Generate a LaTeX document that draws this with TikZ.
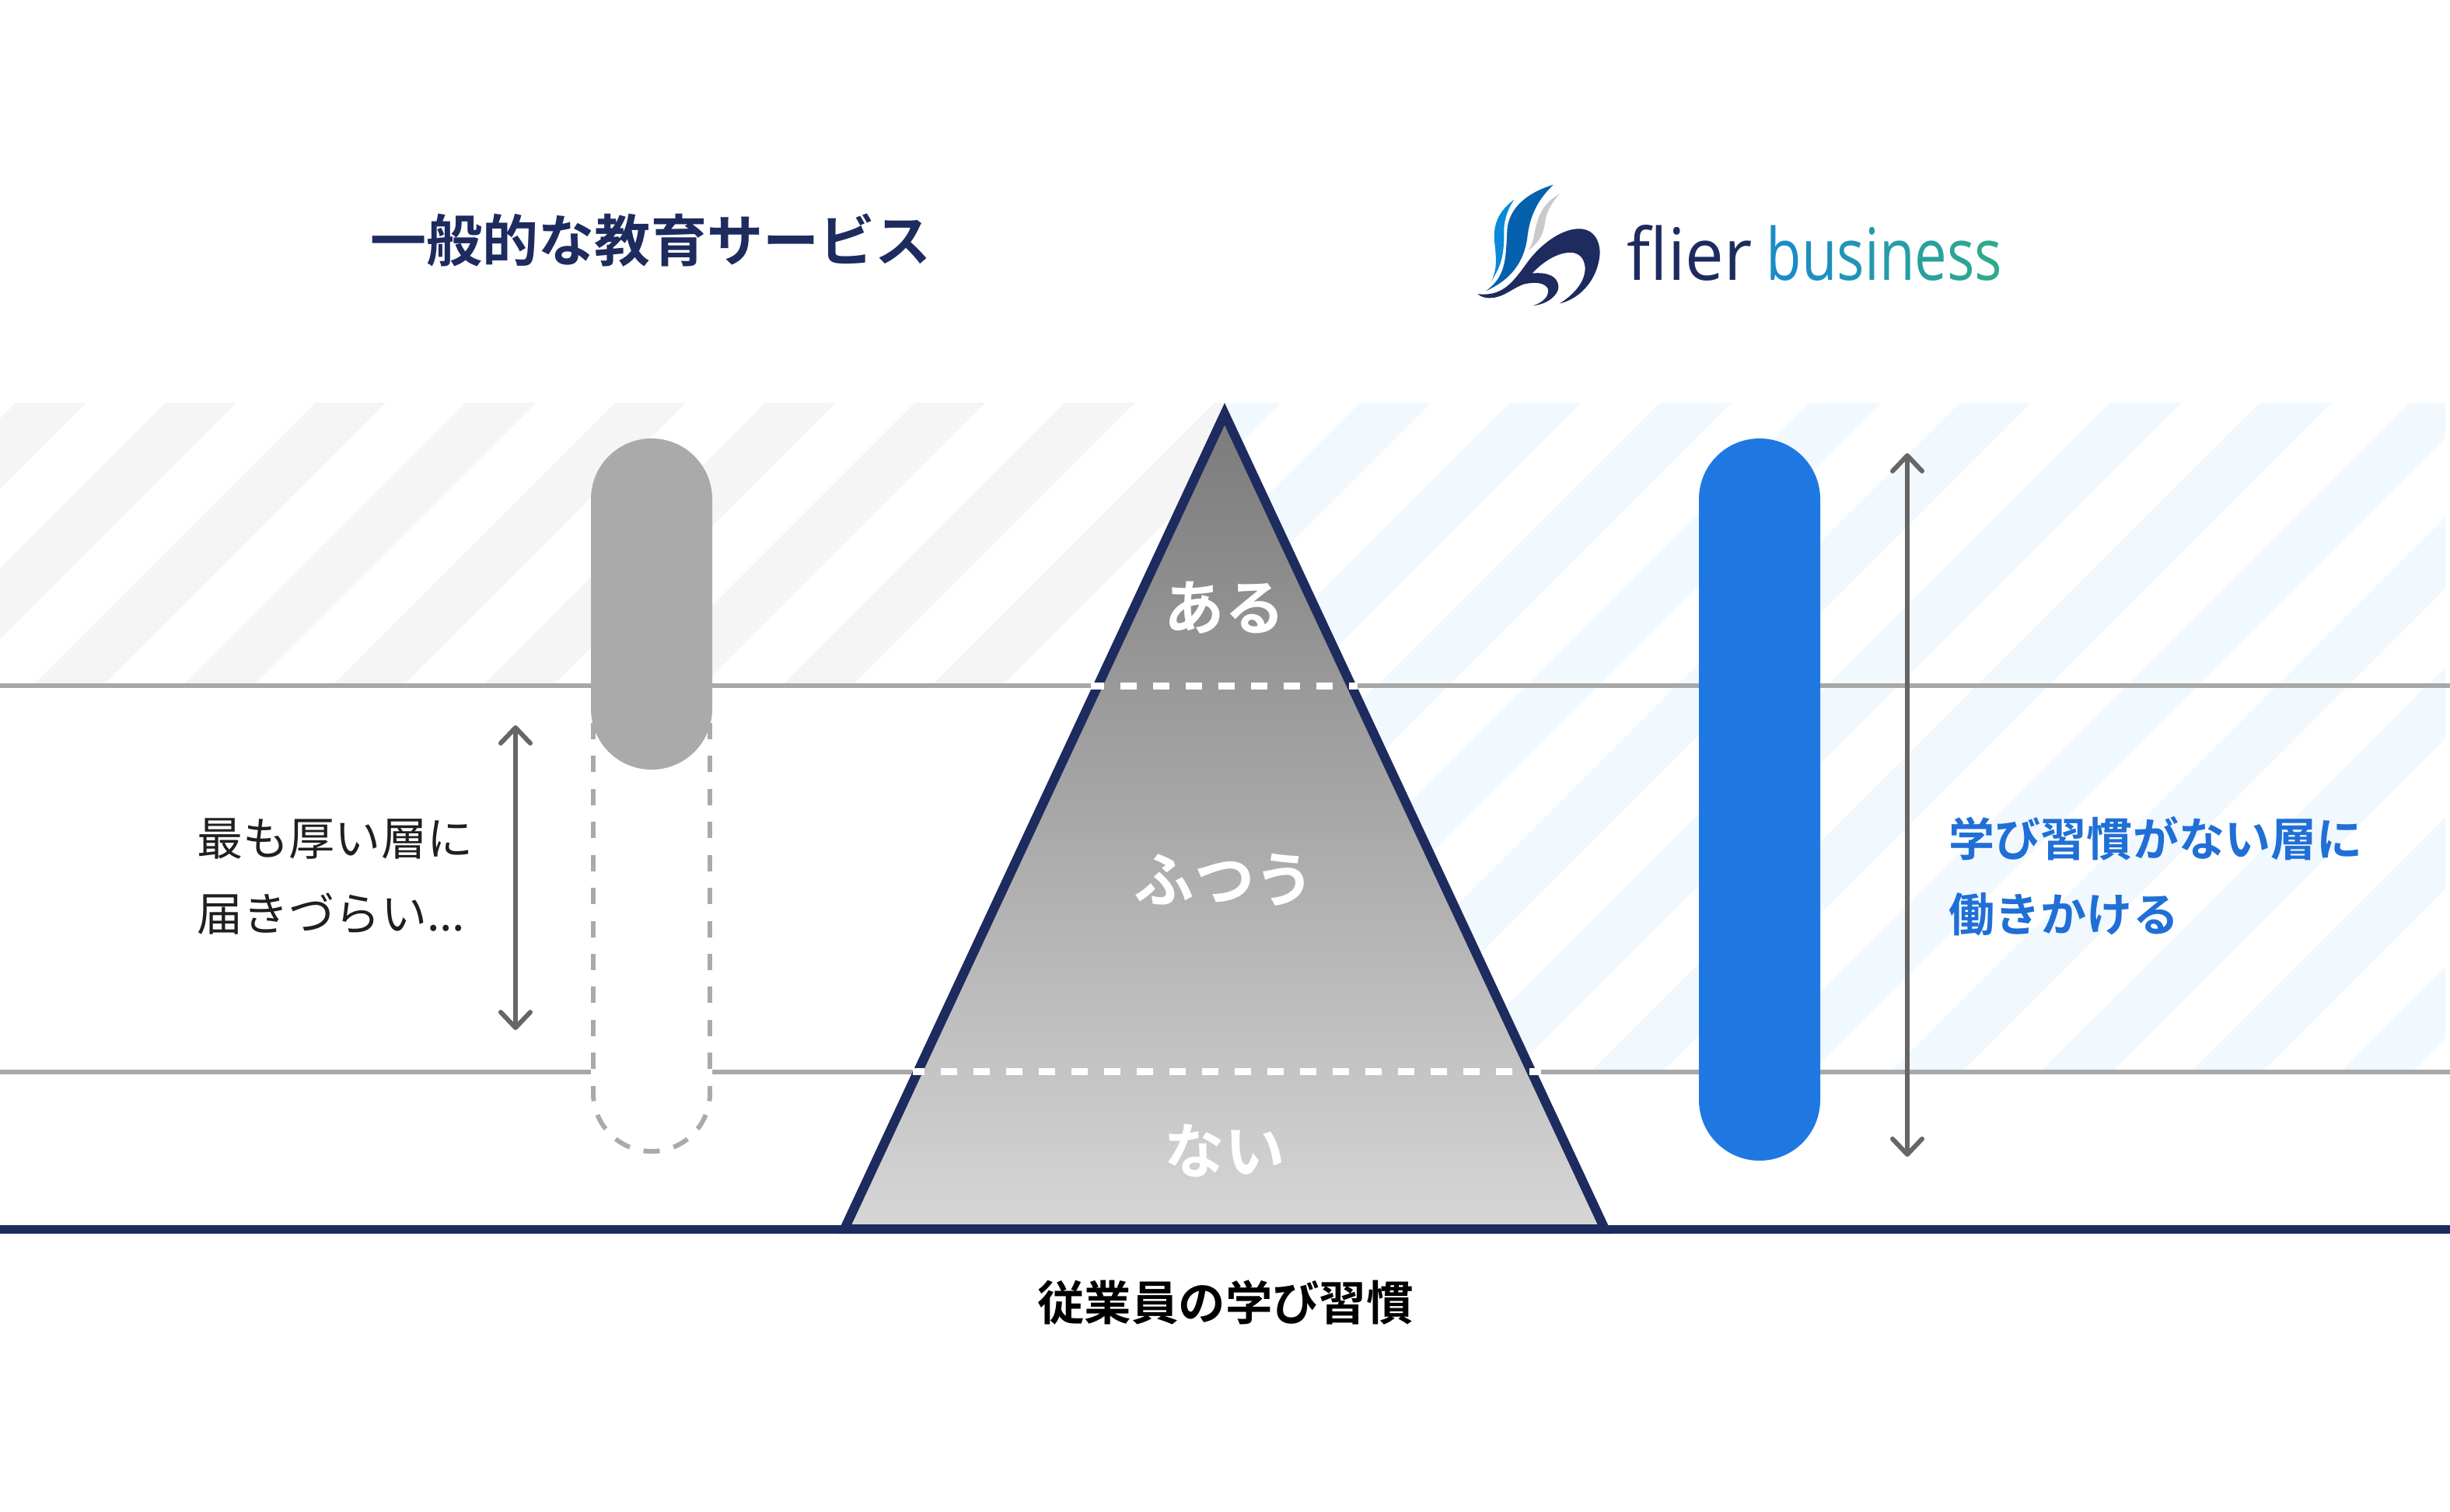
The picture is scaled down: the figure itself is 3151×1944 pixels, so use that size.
\documentclass[tikz,border=0pt]{standalone}
\usepackage{fontspec}
\usepackage{xcolor}
\usetikzlibrary{arrows.meta}
\newfontfamily\cjkreg{Noto Sans CJK JP}
\newfontfamily\cjkbf{Noto Sans CJK JP Bold}
\newfontfamily\logofont{Open Sans}
\definecolor{navy}{HTML}{1E2B5E}
\definecolor{linegray}{HTML}{A8A8A8}
\definecolor{pillgray}{HTML}{AAAAAA}
\definecolor{arrowgray}{HTML}{666666}
\definecolor{hatchgray}{HTML}{F5F5F5}
\definecolor{hatchblue}{HTML}{F1F8FE}
\definecolor{pillblue}{HTML}{1F78E2}
\definecolor{textblue}{HTML}{1F6FD6}
\definecolor{bizA}{HTML}{1A8CC8}
\definecolor{bizB}{HTML}{2FA98C}
\tikzset{
    levelline/.style={color=linegray,line width=.06cm},
    whitedash/.style={color=white,line width=.09cm,dash pattern=on .21cm off .21cm},
    spanarrow/.style={color=arrowgray,line width=.06cm,{Straight Barb[length=.2cm,width=.38cm,round]}-{Straight Barb[length=.2cm,width=.38cm,round]}},
    ghostline/.style={color=pillgray,line width=.06cm,dash pattern=on .21cm off .214cm},
    ghostarc/.style={color=pillgray,line width=.06cm,dash pattern=on .21cm off .1827cm,dash phase=.105cm},
    pyramidlabel/.style={color=white,font=\cjkbf\fontsize{22}{26}\selectfont},
    sidelabel/.style={anchor=west,inner sep=0,align=left},
    logoword/.style={anchor=base west,inner sep=0,font=\logofont\fontsize{26.4}{30}\selectfont},
}
\begin{document}
\begin{tikzpicture}[x=.01cm,y=-.01cm]
    \useasboundingbox (0,0) rectangle (3151,1944);

    % hatched bands
    \begin{scope}
        \clip (0,518) rectangle (1575,882);
        \foreach\k in{-1,...,7}\fill[hatchgray]
            ({731+192.7*\k-518},518)--++(91,0)--++(-364,364)--++(-91,0)--cycle;
    \end{scope}
    \begin{scope}
        \clip (1575,518) rectangle (3145,1378);
        \foreach\k in{-1,...,11}\fill[hatchblue]
            ({2267+192.9*\k-518},518)--++(92,0)--++(-860,860)--++(-92,0)--cycle;
    \end{scope}

    \draw [levelline](0,882)--(3151,882);
    \draw [levelline](0,1378.5)--(3151,1378.5);

    % pills
    \coordinate (ghostL) at (763,930);
    \coordinate (ghostR) at (913,930);
    \coordinate (arcL) at (763,1406);
    \coordinate (arcR) at (913,1406);
    \filldraw[white,line width=.06cm] (ghostL)--(arcL) arc[start angle=180,end angle=360,radius=.75cm]--(ghostR)--cycle;
    \draw [ghostline](ghostL)--(arcL);
    \draw [ghostline](ghostR)--(arcR);
    \draw [ghostarc](arcL) arc[start angle=180,end angle=360,radius=.75cm];
    \fill[pillgray,rounded corners=.78cm] (760,564) rectangle (916,990);
    \fill[pillblue,rounded corners=.78cm] (2185,564) rectangle (2341,1493);

    % arrows
    \coordinate (arrowAtop) at (663,933);
    \coordinate (arrowAbot) at (663,1325);
    \coordinate (arrowBtop) at (2453,583);
    \coordinate (arrowBbot) at (2453,1488);
    \draw [spanarrow](arrowAtop)--(arrowAbot);
    \draw [spanarrow](arrowBtop)--(arrowBbot);

    % pyramid
    \coordinate (apex) at (1575,532.5);
    \coordinate (baseL) at (1086,1581);
    \coordinate (baseR) at (2064,1581);
    \draw [color=navy,line width=.12cm,top color=black!52,bottom color=black!16,miter limit=10]
        (apex)--(baseL)--(baseR)--cycle;
    \draw [color=navy,line width=.115cm](0,1581.5)--(3151,1581.5);
    \draw [whitedash,dash phase=.04cm](1403,882)--(1746,882);
    \draw [whitedash,dash phase=.06cm](1174,1378.5)--(1982,1378.5);

    \node (top) [pyramidlabel] at (1575,782) {ある};
    \node (mid) [pyramidlabel] at (1575,1132) {ふつう};
    \node (low) [pyramidlabel] at (1575,1480) {ない};

    % labels
    \node (title) [color=navy,font=\cjkbf\fontsize{20.5}{24}\selectfont] at (837,309) {一般的な教育サービス};
    \node (lefttext) [sidelabel,color=black!88,font=\cjkreg\fontsize{16.8}{27.6}\selectfont] at (253,1127)
        {最も厚い層に\\届きづらい...};
    \node (righttext) [sidelabel,color=textblue,font=\cjkbf\fontsize{16.8}{27.6}\selectfont] at (2506,1127)
        {学び習慣がない層に\\働きかける};
    \node (axis) [color=black,font=\cjkbf\fontsize{17.2}{20}\selectfont] at (1576,1675) {従業員の学び習慣};

    % logo
    \node (flierword) [logoword] at (2092,360) {\scalebox{.955}[1]{\textcolor{navy}{flier}}};
    \node (bizword) [logoword] at (2271,360)
        {\scalebox{.8}[1]{\textcolor{bizA}{b}\textcolor{bizB!15!bizA}{u}\textcolor{bizB!30!bizA}{s}\textcolor{bizB!42!bizA}{i}\textcolor{bizB!55!bizA}{n}\textcolor{bizB!70!bizA}{e}\textcolor{bizB!85!bizA}{s}\textcolor{bizB}{s}}};
    \begin{scope}[shift={(1800,200)},xscale=.542,yscale=.333]
        \fill[color={rgb,255:red,10;green,138;blue,216}] (272,170) .. controls (235,215) and (222,265) .. (225,330)
            .. controls (230,400) and (232,440) .. (217,487) .. controls (240,430) and (248,390) .. (248,300)
            .. controls (246,260) and (255,210) .. (272,170);
        \fill[color={rgb,255:red,5;green,96;blue,174}] (365,113) .. controls (290,150) and (255,220) .. (255,300)
            .. controls (252,410) and (250,470) .. (205,523) .. controls (265,480) and (295,410) .. (303,320)
            .. controls (308,240) and (325,175) .. (365,113);
        \fill[color={rgb,255:red,200;green,201;blue,203}] (380,148) .. controls (335,190) and (328,240) .. (320,300)
            .. controls (318,330) and (312,350) .. (305,367) .. controls (335,330) and (342,300) .. (346,250)
            .. controls (350,210) and (365,175) .. (380,148);
        \fill[navy] (185,535) .. controls (240,545) and (265,500) .. (300,420)
            .. controls (330,350) and (380,285) .. (425,283) .. controls (465,283) and (477,340) .. (475,385)
            .. controls (470,470) and (435,550) .. (380,572) .. controls (420,530) and (442,480) .. (440,430)
            .. controls (438,395) and (425,375) .. (405,375) .. controls (375,375) and (340,410) .. (315,455)
            .. controls (350,450) and (375,465) .. (377,505) .. controls (378,540) and (350,575) .. (317,580)
            .. controls (345,565) and (355,540) .. (352,515) .. controls (345,490) and (320,488) .. (295,497)
            .. controls (265,515) and (250,545) .. (220,550) .. controls (205,552) and (195,548) .. (185,535) -- cycle;
    \end{scope}
\end{tikzpicture}
\end{document}
